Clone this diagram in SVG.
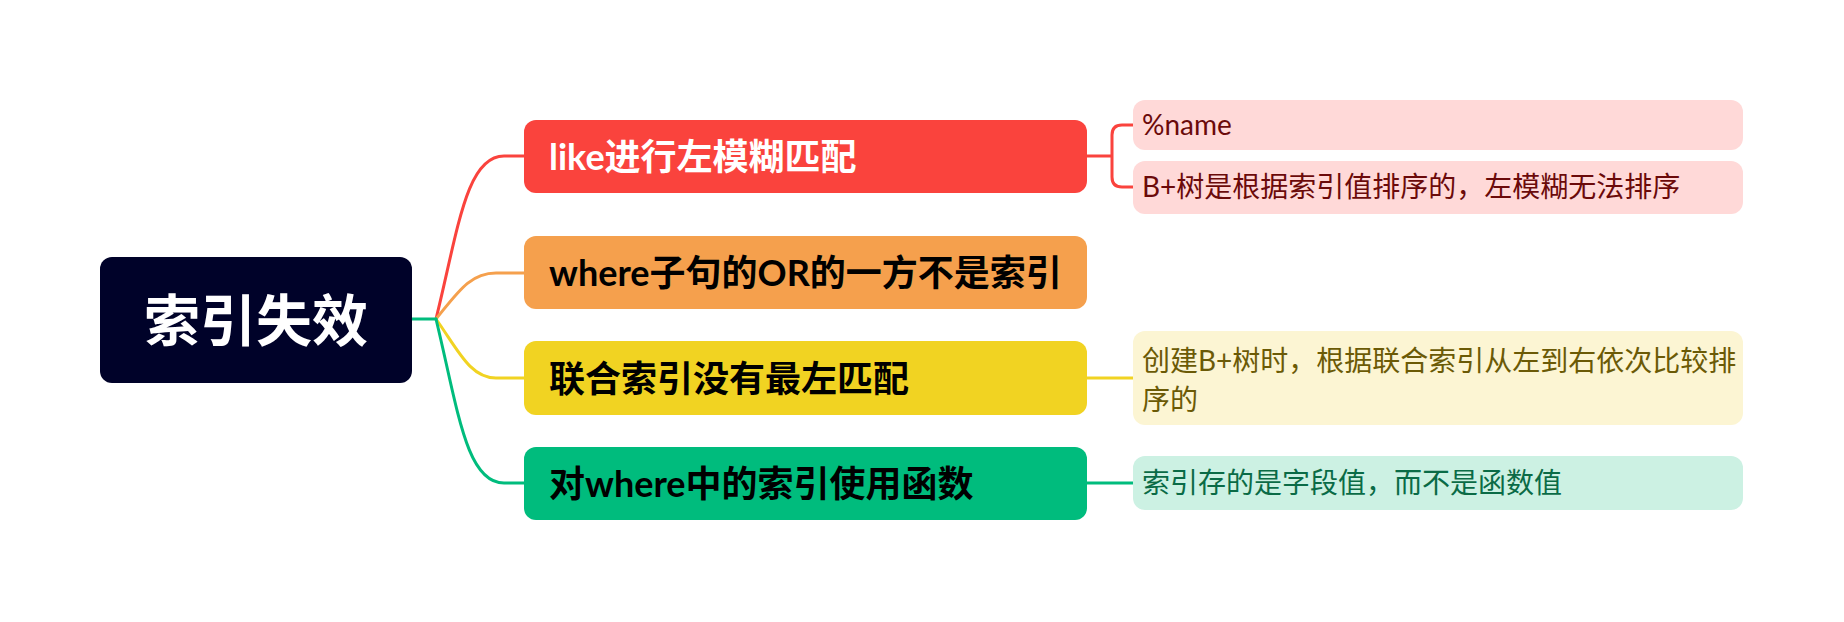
<svg xmlns="http://www.w3.org/2000/svg" width="1844" height="622" viewBox="0 0 1844 622">
  <style>
    text { font-family: "Lato", "Noto Sans CJK SC", "Noto Sans", sans-serif; }
    .root-t { font-size: 56px; font-weight: 700; fill: #ffffff; }
    .main-t { font-size: 36px; font-weight: 700; }
    .sub-t { font-size: 28px; font-weight: 400; }
    .link { fill: none; stroke-width: 3; stroke-linecap: round; }
  </style>

  <rect width="1844" height="622" fill="#ffffff"/>

  <!-- connectors -->
  <g id="connectors">
    <path class="link" stroke="#FA433D" d="M436,319 C458,230 466,156 504,156 H524"/>
    <path class="link" stroke="#F5A04D" d="M436,319 C458,292 470,273 496,273 H524"/>
    <path class="link" stroke="#F1D322" d="M436,319 C458,350 470,378 496,378 H524"/>
    <path class="link" stroke="#00BC7D" d="M436,319 C458,410 466,483 504,483 H524"/>
    <path class="link" stroke="#00BC7D" d="M412,319 H436"/>
    <path class="link" stroke="#FA433D" d="M1087,156 H1112 M1133,125 H1122 Q1112,125 1112,135 V177 Q1112,187 1122,187 H1133"/>
    <path class="link" stroke="#F1D322" d="M1087,378 H1133"/>
    <path class="link" stroke="#00BC7D" d="M1087,483 H1133"/>
  </g>

  <!-- central topic -->
  <g id="root">
    <rect x="100" y="257" width="312" height="126" rx="12" fill="#000229"/>
    <text class="root-t" x="256" y="341" text-anchor="middle">索引失效</text>
  </g>

  <!-- main branches -->
  <g id="branch-like">
    <rect x="524" y="120" width="563" height="73" rx="12" fill="#FA433D"/>
    <text class="main-t" x="549" y="170" fill="#ffffff">like进行左模糊匹配</text>
  </g>
  <g id="branch-or">
    <rect x="524" y="236" width="563" height="73" rx="12" fill="#F5A04D"/>
    <text class="main-t" x="549" y="286" fill="#000000">where子句的OR的一方不是索引</text>
  </g>
  <g id="branch-leftmost">
    <rect x="524" y="341" width="563" height="74" rx="12" fill="#F1D322"/>
    <text class="main-t" x="549" y="392" fill="#000000">联合索引没有最左匹配</text>
  </g>
  <g id="branch-func">
    <rect x="524" y="447" width="563" height="73" rx="12" fill="#00BC7D"/>
    <text class="main-t" x="549" y="497" fill="#000000">对where中的索引使用函数</text>
  </g>

  <!-- details -->
  <g id="detail-name">
    <rect x="1133" y="100" width="610" height="50" rx="12" fill="#FFD9D8"/>
    <text class="sub-t" x="1142" y="135" fill="#6B0A0A">%name</text>
  </g>
  <g id="detail-bplus">
    <rect x="1133" y="161" width="610" height="53" rx="12" fill="#FFD9D8"/>
    <text class="sub-t" x="1142" y="197" fill="#6B0A0A">B+树是根据索引值排序的，左模糊无法排序</text>
  </g>
  <g id="detail-order">
    <rect x="1133" y="331" width="610" height="94" rx="12" fill="#FCF5D3"/>
    <text class="sub-t" x="1142" y="371" fill="#6B5A06">创建B+树时，根据联合索引从左到右依次比较排</text>
    <text class="sub-t" x="1142" y="410" fill="#6B5A06">序的</text>
  </g>
  <g id="detail-value">
    <rect x="1133" y="456" width="610" height="54" rx="12" fill="#CCF1E3"/>
    <text class="sub-t" x="1142" y="493" fill="#0A6B46">索引存的是字段值，而不是函数值</text>
  </g>
</svg>
